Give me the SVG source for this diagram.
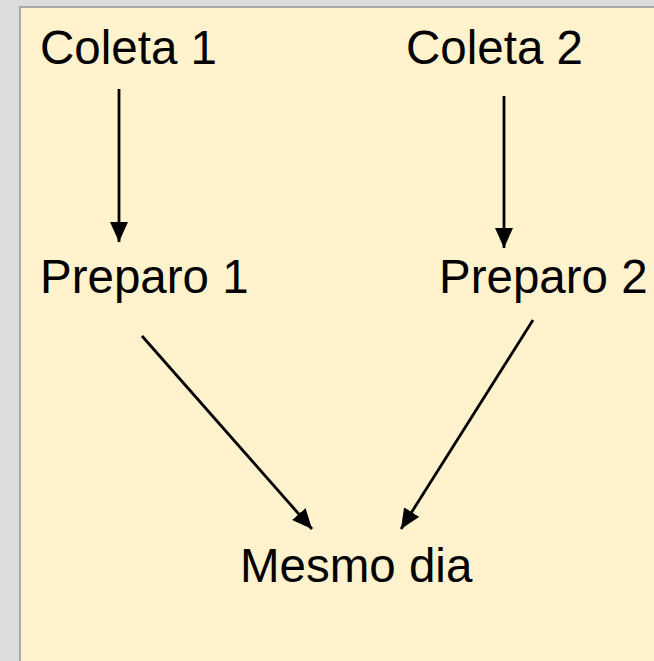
<svg xmlns="http://www.w3.org/2000/svg" width="654" height="661" viewBox="0 0 654 661">
<style>
.lbl{font-family:"Liberation Sans",Arial,sans-serif;font-size:47.5px;fill:#000}
.con{stroke:#000;stroke-width:2.8;fill:none;marker-end:url(#ah)}
</style>
<defs>
<marker id="ah" markerUnits="userSpaceOnUse" markerWidth="20" markerHeight="18" viewBox="0 0 20 18" refX="20" refY="9" orient="auto">
<path d="M0,0 L20,9 L0,18 Z" fill="#000"/>
</marker>
</defs>
<rect x="0" y="0" width="654" height="661" fill="#dcdcdc"/>
<rect x="19" y="6" width="635" height="655" fill="#a8a8a8"/>
<rect x="21" y="8" width="633" height="653" fill="#fff2cc"/>
<g id="connectors">
<line class="con" x1="119" y1="89" x2="119" y2="242"/>
<line class="con" x1="504" y1="96" x2="504" y2="248"/>
<line class="con" x1="142" y1="336" x2="312" y2="529"/>
<line class="con" x1="533" y1="320" x2="401" y2="529"/>
</g>
<g id="coleta1"><text class="lbl" x="40" y="64">Coleta 1</text></g>
<g id="coleta2"><text class="lbl" x="406" y="64">Coleta 2</text></g>
<g id="preparo1"><text class="lbl" x="40" y="293">Preparo 1</text></g>
<g id="preparo2"><text class="lbl" x="439" y="293">Preparo 2</text></g>
<g id="mesmodia"><text class="lbl" x="240" y="582">Mesmo dia</text></g>
</svg>
